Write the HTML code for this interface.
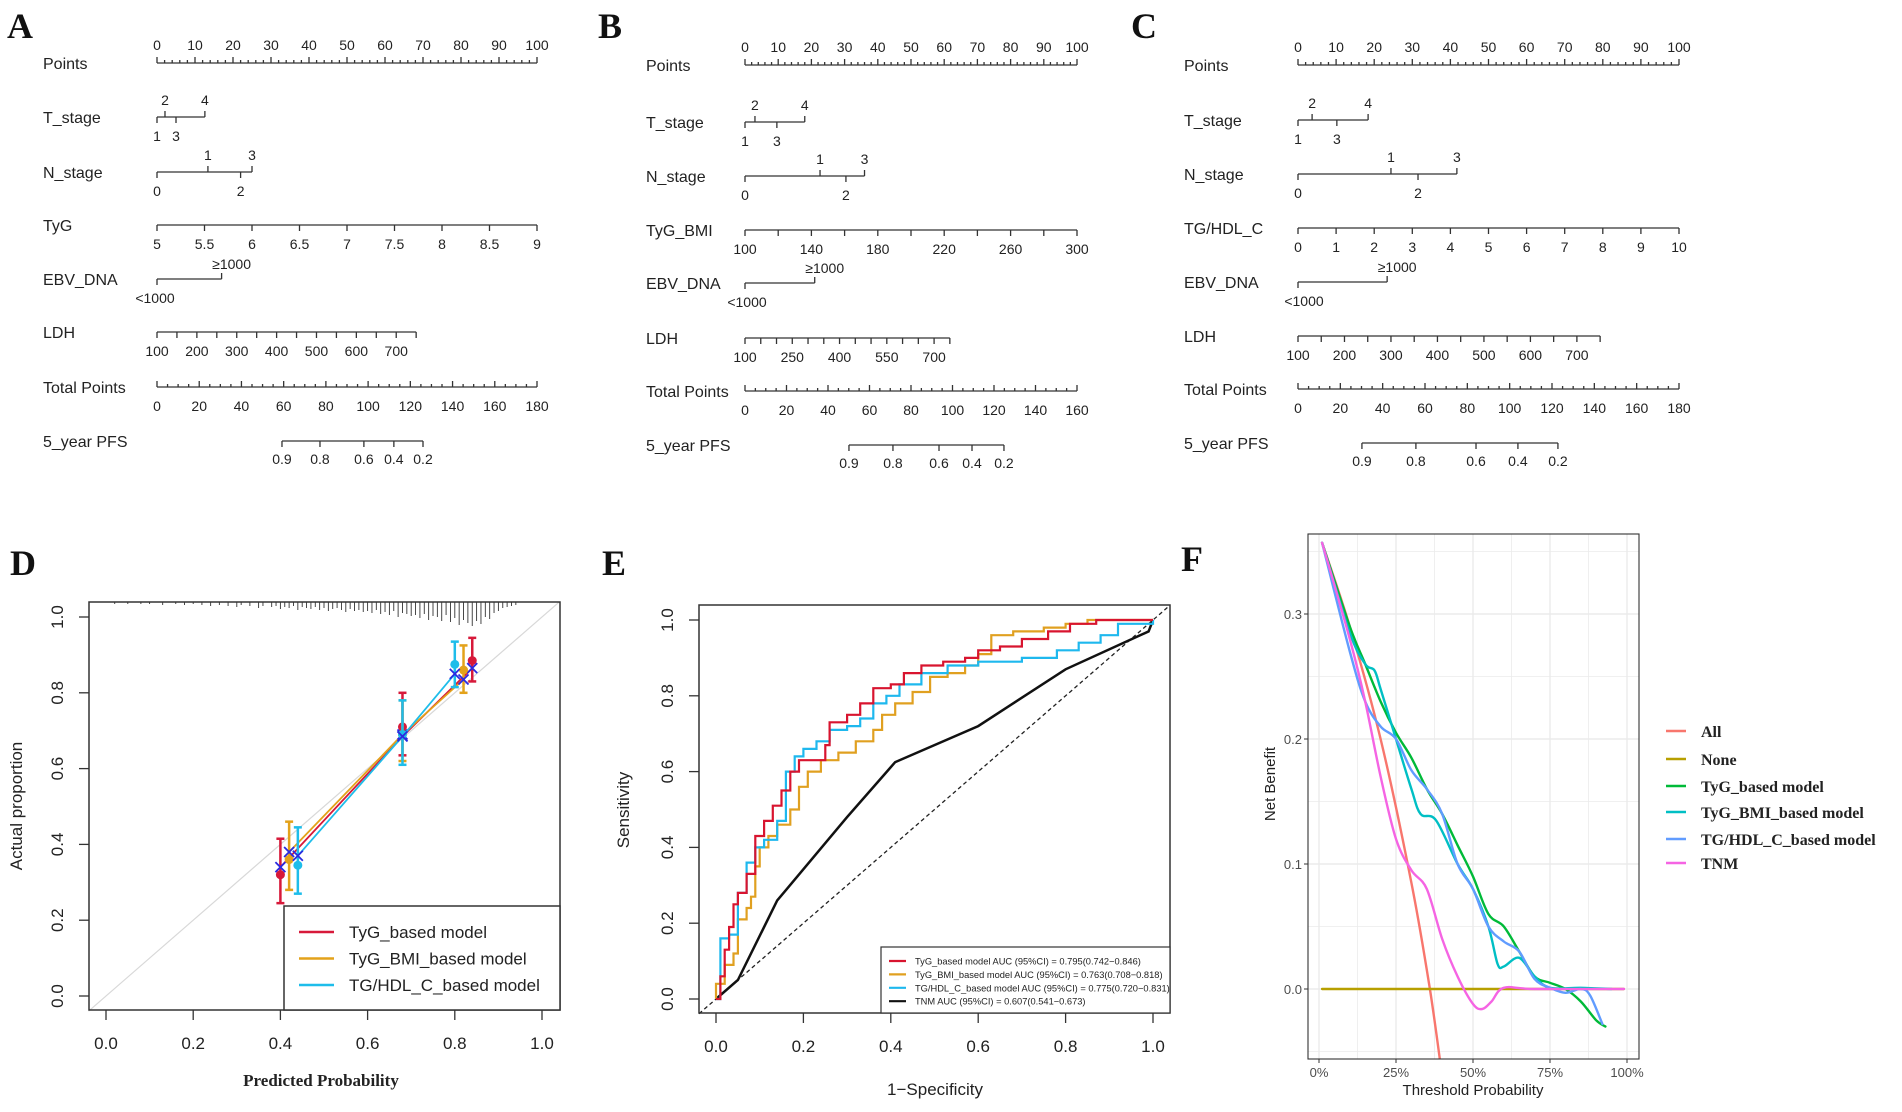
<!DOCTYPE html>
<html><head><meta charset="utf-8"><title>Nomograms, calibration, ROC and DCA</title>
<style>
html,body{margin:0;padding:0;background:#fff;}
svg{display:block;font-family:"Liberation Sans",sans-serif;}
</style></head>
<body>
<svg id="fig" width="1902" height="1112" viewBox="0 0 1902 1112" xmlns="http://www.w3.org/2000/svg"></svg>
<script>
// ---------- Nomogram data ----------
const nomoVarsA = ["Points","T_stage","N_stage","TyG","EBV_DNA","LDH","Total Points","5_year PFS"];
const nomoVarsB = ["Points","T_stage","N_stage","TyG_BMI","EBV_DNA","LDH","Total Points","5_year PFS"];
const nomoVarsC = ["Points","T_stage","N_stage","TG/HDL_C","EBV_DNA","LDH","Total Points","5_year PFS"];
const tStageLabels = ["1","2","3","4"];
const tStagePtsA = [0,2.1,5,12.6];
const tStagePtsB = [0,3,9.6,18];
const tStagePtsC = [0,3.7,10.2,18.4];
const nStageLabels = ["0","1","2","3"];
const nStagePtsA = [0,13.4,22,25];
const nStagePtsB = [0,22.6,30.4,36];
const nStagePtsC = [0,24.4,31.5,41.7];
const ebvLabels = ["<1000","≥1000"];
const ebvPtsA = [0,17];
const ebvPtsB = [0,21];
const ebvPtsC = [0,23.4];
const tygRange = [5,9]; const tygTickStep = 0.5;
const tygBmiRange = [100,300]; const tygBmiTickStep = 20; const tygBmiLabelStep = 40;
const tgHdlRange = [0,10]; const tgHdlTickStep = 1;
const ldhRange = [100,750];
const ldhMaxPtsA = 68.2, ldhMaxPtsB = 61.7, ldhMaxPtsC = 79.3;
const ldhLabelsA = [100,200,300,400,500,600,700];
const ldhLabelsB = [100,250,400,550,700];
const totalMaxA = 180, totalMaxB = 160, totalMaxC = 180;
const pfsLabels = ["0.9","0.8","0.6","0.4","0.2"];
const pfsPtsA = [59.2,77.2,98,112.2,126];
const pfsPtsB = [50.1,71.3,93.5,109.4,124.8];
const pfsPtsC = [30.2,55.7,84.1,103.9,122.8];

// ---------- Calibration (D) data ----------
const calModels = ["TyG_based model","TyG_BMI_based model","TG/HDL_C_based model"];
const calPred = [[0.40,0.68,0.84],[0.42,0.68,0.82],[0.44,0.68,0.80]];
const calObs = [[0.32,0.71,0.885],[0.36,0.69,0.86],[0.345,0.69,0.875]];
const calLo = [[0.245,0.635,0.83],[0.28,0.62,0.80],[0.27,0.61,0.815]];
const calHi = [[0.415,0.80,0.945],[0.46,0.78,0.925],[0.445,0.78,0.935]];
const calCorr = [[0.34,0.685,0.865],[0.38,0.69,0.835],[0.37,0.685,0.85]];
const calTicks = [0,0.2,0.4,0.6,0.8,1.0];
const rugPred = [0.02,0.05,0.08,0.1,0.13,0.16,0.18,0.2,0.22,0.24,0.26,0.28,0.3,0.31,0.33,0.35,0.36,0.38,0.39,0.4,0.41,0.42,0.43,0.44,0.45,0.46,0.47,0.48,0.49,0.5,0.51,0.52,0.53,0.54,0.55,0.56,0.57,0.58,0.59,0.6,0.61,0.62,0.63,0.64,0.65,0.66,0.67,0.68,0.69,0.7,0.71,0.72,0.73,0.74,0.75,0.76,0.77,0.78,0.79,0.8,0.81,0.82,0.83,0.84,0.85,0.86,0.87,0.88,0.89,0.9,0.91,0.92,0.93,0.94];
const rugLen = [0.2,0.2,0.2,0.2,0.3,0.2,0.3,0.2,0.3,0.4,0.3,0.4,0.5,0.3,0.4,0.6,0.4,0.5,0.4,0.7,0.5,0.6,0.4,0.8,0.5,0.6,0.7,0.5,0.8,0.6,0.9,0.7,0.6,0.8,1.0,0.7,0.9,0.8,1.0,0.9,1.1,0.8,1.2,1.0,1.3,0.9,1.5,1.1,1.2,1.4,1.3,1.6,1.2,1.8,1.4,1.5,1.9,1.3,2.0,1.6,2.3,1.8,2.1,2.4,1.9,2.2,1.5,1.7,1.1,0.9,0.6,0.5,0.4,0.3];

// ---------- ROC (E) data ----------
const rocModels = ["TyG_based model AUC (95%CI) = 0.795(0.742−0.846)","TyG_BMI_based model AUC (95%CI) = 0.763(0.708−0.818)","TG/HDL_C_based model AUC (95%CI) = 0.775(0.720−0.831)","TNM AUC (95%CI) = 0.607(0.541−0.673)"];
const rocFprRed = [0,0.01,0.02,0.03,0.04,0.05,0.07,0.09,0.11,0.13,0.15,0.17,0.19,0.22,0.25,0.26,0.30,0.33,0.36,0.40,0.43,0.47,0.52,0.57,0.60,0.65,0.70,0.76,0.81,0.87,1];
const rocTprRed = [0,0.06,0.13,0.19,0.25,0.28,0.33,0.43,0.47,0.51,0.55,0.60,0.63,0.63,0.67,0.73,0.75,0.78,0.82,0.83,0.86,0.88,0.89,0.90,0.92,0.93,0.95,0.97,0.99,1.0,1];
const rocFprOrange = [0,0,0.02,0.04,0.05,0.07,0.08,0.09,0.10,0.12,0.14,0.17,0.19,0.21,0.24,0.28,0.32,0.36,0.38,0.41,0.45,0.49,0.53,0.57,0.60,0.63,0.68,0.75,0.80,0.85,1];
const rocTprOrange = [0,0.04,0.09,0.12,0.21,0.24,0.27,0.35,0.40,0.43,0.46,0.50,0.56,0.60,0.63,0.65,0.68,0.71,0.75,0.78,0.81,0.85,0.86,0.88,0.91,0.96,0.97,0.98,0.99,1.0,1];
const rocFprCyan = [0,0.01,0.01,0.03,0.05,0.07,0.07,0.09,0.11,0.14,0.16,0.18,0.20,0.23,0.26,0.30,0.33,0.36,0.39,0.42,0.47,0.53,0.60,0.70,0.78,0.83,0.88,0.92,1,1];
const rocTprCyan = [0,0.04,0.16,0.17,0.28,0.30,0.36,0.40,0.42,0.47,0.60,0.64,0.66,0.68,0.71,0.72,0.74,0.78,0.80,0.83,0.86,0.88,0.89,0.90,0.92,0.94,0.96,0.99,0.995,1];
const rocFprTnm = [0,0.05,0.14,0.30,0.41,0.60,0.80,0.99,1];
const rocTprTnm = [0,0.05,0.26,0.48,0.625,0.72,0.87,0.97,1];
const rocTicks = [0,0.2,0.4,0.6,0.8,1.0];

// ---------- DCA (F) data ----------
const dcaNames = ["All","None","TyG_based model","TyG_BMI_based model","TG/HDL_C_based model","TNM"];
const dcaThrAll = [0.01,0.1,0.2,0.3,0.36,0.40];
const dcaNbAll = [0.357,0.29,0.2,0.085,0,-0.07];
const dcaThrNone = [0.01,0.99];
const dcaNbNone = [0,0];
const dcaThrTyg = [0.01,0.1,0.15,0.2,0.25,0.3,0.35,0.4,0.45,0.5,0.55,0.6,0.65,0.7,0.75,0.8,0.85,0.9,0.93];
const dcaNbTyg = [0.357,0.29,0.26,0.23,0.205,0.185,0.16,0.14,0.115,0.09,0.06,0.05,0.03,0.01,0.005,0,-0.01,-0.025,-0.03];
const dcaThrBmi = [0.01,0.1,0.15,0.18,0.2,0.25,0.3,0.33,0.38,0.45,0.5,0.55,0.58,0.6,0.65,0.7,0.75,0.85,0.95];
const dcaNbBmi = [0.357,0.285,0.26,0.255,0.24,0.2,0.16,0.14,0.135,0.10,0.08,0.05,0.02,0.018,0.025,0.01,0.001,0.001,0];
const dcaThrHdl = [0.01,0.1,0.15,0.2,0.25,0.3,0.35,0.4,0.45,0.5,0.55,0.6,0.65,0.7,0.75,0.8,0.85,0.88,0.92];
const dcaNbHdl = [0.357,0.27,0.23,0.21,0.2,0.175,0.16,0.14,0.1,0.08,0.05,0.038,0.03,0.008,0.001,-0.003,0,-0.005,-0.028];
const dcaThrTnm = [0.01,0.1,0.15,0.2,0.25,0.3,0.35,0.4,0.45,0.5,0.53,0.56,0.6,0.7,0.99];
const dcaNbTnm = [0.357,0.28,0.23,0.17,0.12,0.095,0.08,0.04,0.01,-0.012,-0.016,-0.01,0.001,0,0];
const dcaYTicks = [0,0.1,0.2,0.3];
const dcaXTicks = [0,0.25,0.5,0.75,1];
const dcaXLabels = ["0%","25%","50%","75%","100%"];

// ---------- helpers ----------
const NS = "http://www.w3.org/2000/svg";
const svg = document.getElementById("fig");
function mk(tag, attrs, name, parent) {
  const el = document.createElementNS(NS, tag);
  for (const k in attrs) el.setAttribute(k, attrs[k]);
  
  
  (parent || svg).appendChild(el);
  return el;
}
function grp(name) { return mk("g", {}, name); }
function ln(x1,y1,x2,y2,name,p,stroke,w,extra) {
  const a = {x1:x1,y1:y1,x2:x2,y2:y2,stroke:stroke||"#333","stroke-width":w||1.3};
  if (extra) for (const k in extra) a[k]=extra[k];
  return mk("line", a, name, p);
}
function tx(x,y,s,name,p,size,anchor,extra) {
  const a = {x:x,y:y,"font-size":size||14,"text-anchor":anchor||"middle",fill:"#222"};
  if (extra) for (const k in extra) a[k]=extra[k];
  const t = mk("text", a, name, p);
  t.textContent = s;
  return t;
}
function poly(pts,name,p,stroke,w,extra) {
  const a = {points:pts.map(q=>q[0].toFixed(1)+","+q[1].toFixed(1)).join(" "),fill:"none",stroke:stroke,"stroke-width":w||2,"stroke-linejoin":"round","stroke-linecap":"round"};
  if (extra) for (const k in extra) a[k]=extra[k];
  return mk("polyline", a, name, p);
}
function smooth(pts,name,p,stroke,w,extra) {
  let d = "M" + pts[0][0].toFixed(1) + "," + pts[0][1].toFixed(1);
  for (let i = 0; i < pts.length - 1; i++) {
    const p0 = pts[Math.max(0,i-1)], p1 = pts[i], p2 = pts[i+1], p3 = pts[Math.min(pts.length-1,i+2)];
    const c1 = [p1[0] + (p2[0]-p0[0])/6, p1[1] + (p2[1]-p0[1])/6];
    const c2 = [p2[0] - (p3[0]-p1[0])/6, p2[1] - (p3[1]-p1[1])/6];
    d += " C" + c1.map(v=>v.toFixed(1)).join(",") + " " + c2.map(v=>v.toFixed(1)).join(",") + " " + p2.map(v=>v.toFixed(1)).join(",");
  }
  const a = {d:d,fill:"none",stroke:stroke,"stroke-width":w||2,"stroke-linecap":"round"};
  if (extra) for (const k in extra) a[k]=extra[k];
  return mk("path", a, name, p);
}

// ---------- panel letters ----------
const letters = [["A",7,38],["B",598,38],["C",1131,38],["D",10,575],["E",602,575],["F",1181,571]];
letters.forEach(l => {
  tx(l[1], l[2], l[0], "panel-label-" + l[0].toLowerCase(), null, 36, "start", {"font-family":"Liberation Serif, serif","font-weight":"bold",fill:"#111"});
});

// ---------- nomogram ----------
function nomogram(cfg) {
  const g = grp("nomogram-" + cfg.id);
  const X = p => cfg.x0 + p / 100 * (cfg.x1 - cfg.x0);
  const XT = p => cfg.x0 + p / cfg.totalMax * (cfg.x1 - cfg.x0);
  const ys = cfg.ys;
  cfg.vars.forEach((v,i) => tx(cfg.lx, ys[i] + 6, v, "variable-label", g, 16, "start"));
  ln(X(0), ys[0], X(100), ys[0], "points-axis", g);
  for (let p = 0; p <= 100; p += 2) {
    const major = p % 10 === 0;
    ln(X(p), ys[0], X(p), ys[0] - (major ? 6 : 3), "points-tick", g);
    if (major) tx(X(p), ys[0] - 13, String(p), "points-tick-label", g, 14);
  }
  function cat(y, pts, labels, upIdx, name) {
    ln(X(pts[0]), y, X(Math.max.apply(null, pts)), y, name + "-axis", g);
    pts.forEach((p,i) => {
      const up = upIdx.indexOf(i) >= 0;
      ln(X(p), y, X(p), y + (up ? -6 : 6), name + "-tick", g);
      tx(X(p), up ? y - 12 : y + 24, labels[i], name + "-tick-label", g, 14);
    });
  }
  cat(ys[1], cfg.tPts, tStageLabels, [1,3], "t-stage");
  cat(ys[2], cfg.nPts, nStageLabels, [1,3], "n-stage");
  const cv = cfg.cont;
  const CX = v => X((v - cv.range[0]) / (cv.range[1] - cv.range[0]) * 100);
  ln(CX(cv.range[0]), ys[3], CX(cv.range[1]), ys[3], "continuous-axis", g);
  for (let v = cv.range[0]; v <= cv.range[1] + 1e-9; v += cv.step) {
    ln(CX(v), ys[3], CX(v), ys[3] + 6, "continuous-tick", g);
    const k = Math.round((v - cv.range[0]) / cv.labelStep * 1000) / 1000;
    if (Math.abs(k - Math.round(k)) < 1e-6) tx(CX(v), ys[3] + 24, String(Math.round(v * 10) / 10), "continuous-tick-label", g, 14);
  }
  ln(X(cfg.ebvPts[0]), ys[4], X(cfg.ebvPts[1]), ys[4], "ebv-axis", g);
  ln(X(cfg.ebvPts[0]), ys[4], X(cfg.ebvPts[0]), ys[4] + 6, "ebv-tick", g);
  ln(X(cfg.ebvPts[1]), ys[4], X(cfg.ebvPts[1]), ys[4] - 6, "ebv-tick", g);
  tx(X(cfg.ebvPts[0]) + cfg.ltOff, ys[4] + 24, ebvLabels[0], "ebv-tick-label", g, 14);
  tx(X(cfg.ebvPts[1]) + 10, ys[4] - 10, ebvLabels[1], "ebv-tick-label", g, 14);
  const LX = v => X((v - ldhRange[0]) / (ldhRange[1] - ldhRange[0]) * cfg.ldhMax);
  ln(LX(ldhRange[0]), ys[5], LX(ldhRange[1]), ys[5], "ldh-axis", g);
  for (let v = ldhRange[0]; v <= ldhRange[1]; v += 50) ln(LX(v), ys[5], LX(v), ys[5] + 6, "ldh-tick", g);
  cfg.ldhLabels.forEach(v => tx(LX(v), ys[5] + 24, String(v), "ldh-tick-label", g, 14));
  ln(XT(0), ys[6], XT(cfg.totalMax), ys[6], "total-points-axis", g);
  for (let p = 0; p <= cfg.totalMax; p += 5) {
    const major = p % 20 === 0;
    ln(XT(p), ys[6], XT(p), ys[6] - (major ? 6 : 3), "total-points-tick", g);
    if (major) tx(XT(p), ys[6] + 24, String(p), "total-points-tick-label", g, 14);
  }
  ln(XT(cfg.pfsPts[0]), ys[7], XT(cfg.pfsPts[cfg.pfsPts.length - 1]), ys[7], "pfs-axis", g);
  cfg.pfsPts.forEach((p,i) => {
    ln(XT(p), ys[7], XT(p), ys[7] + 6, "pfs-tick", g);
    tx(XT(p), ys[7] + 23, pfsLabels[i], "pfs-tick-label", g, 14);
  });
}
nomogram({id:"a",x0:157,x1:537,lx:43,ys:[63,117,172,225,279,332,387,441],vars:nomoVarsA,tPts:tStagePtsA,nPts:nStagePtsA,
  cont:{range:tygRange,step:tygTickStep,labelStep:tygTickStep},ebvPts:ebvPtsA,ltOff:-2,ldhMax:ldhMaxPtsA,ldhLabels:ldhLabelsA,totalMax:totalMaxA,pfsPts:pfsPtsA});
nomogram({id:"b",x0:745,x1:1077,lx:646,ys:[65,122,176,230,283,338,391,445],vars:nomoVarsB,tPts:tStagePtsB,nPts:nStagePtsB,
  cont:{range:tygBmiRange,step:tygBmiTickStep,labelStep:tygBmiLabelStep},ebvPts:ebvPtsB,ltOff:2,ldhMax:ldhMaxPtsB,ldhLabels:ldhLabelsB,totalMax:totalMaxB,pfsPts:pfsPtsB});
nomogram({id:"c",x0:1298,x1:1679,lx:1184,ys:[65,120,174,228,282,336,389,443],vars:nomoVarsC,tPts:tStagePtsC,nPts:nStagePtsC,
  cont:{range:tgHdlRange,step:tgHdlTickStep,labelStep:tgHdlTickStep},ebvPts:ebvPtsC,ltOff:6,ldhMax:ldhMaxPtsC,ldhLabels:ldhLabelsA,totalMax:totalMaxC,pfsPts:pfsPtsC});

// ---------- D calibration ----------
(function(){
  const g = grp("calibration-plot");
  const fx0=89, fx1=560, fy0=602, fy1=1010;
  const X = v => 106 + v * 436, Y = v => 996 - v * 379;
  ln(X(-0.04), Y(-0.04), X(1.04), Y(1.04), "ideal-line", g, "#d8d8d8", 1.2);
  rugPred.forEach((p,i) => ln(X(p), fy0, X(p), fy0 + rugLen[i] * 10, "rug-mark", g, "#333", 0.9));
  const cols = ["#d7193a","#e3a21a","#1ebdea"];
  calModels.forEach((m,k) => {
    const c = cols[k];
    poly(calPred[k].map((p,i)=>[X(p),Y(calCorr[k][i])]), "calibration-line-" + k, g, c, 1.8);
    calPred[k].forEach((p,i) => {
      ln(X(p), Y(calLo[k][i]), X(p), Y(calHi[k][i]), "error-bar", g, c, 2.5);
      ln(X(p)-4, Y(calLo[k][i]), X(p)+4, Y(calLo[k][i]), "error-cap", g, c, 2.5);
      ln(X(p)-4, Y(calHi[k][i]), X(p)+4, Y(calHi[k][i]), "error-cap", g, c, 2.5);
      mk("circle", {cx:X(p), cy:Y(calObs[k][i]), r:4.5, fill:c}, "observed-point", g);
      const cx = X(p), cy = Y(calCorr[k][i]);
      ln(cx-5, cy-5, cx+5, cy+5, "corrected-marker", g, "#2a2ae0", 1.8);
      ln(cx-5, cy+5, cx+5, cy-5, "corrected-marker", g, "#2a2ae0", 1.8);
    });
  });
  mk("rect", {x:fx0, y:fy0, width:fx1-fx0, height:fy1-fy0, fill:"none", stroke:"#333", "stroke-width":1.5}, "plot-frame", g);
  calTicks.forEach(t => {
    ln(X(t), fy1, X(t), fy1 + 10, "x-tick", g);
    tx(X(t), 1049, t.toFixed(1), "x-tick-label", g, 17);
    ln(fx0, Y(t), fx0 - 10, Y(t), "y-tick", g);
    tx(63, Y(t), t.toFixed(1), "y-tick-label", g, 17, "middle", {transform:"rotate(-90 63 " + Y(t) + ")"});
  });
  tx(321, 1086, "Predicted Probability", "x-axis-title", g, 17, "middle", {"font-family":"Liberation Serif, serif","font-weight":"bold"});
  tx(22, 806, "Actual proportion", "y-axis-title", g, 17, "middle", {transform:"rotate(-90 22 806)"});
  const lg = mk("g", {}, "legend", g);
  mk("rect", {x:284, y:906, width:276, height:104, fill:"#fff", stroke:"#333", "stroke-width":1.5}, "legend-box", lg);
  calModels.forEach((m,k) => {
    const y = 932 + k * 26.5;
    ln(299, y, 334, y, "legend-swatch", lg, cols[k], 2.5);
    tx(349, y + 6, m, "legend-entry", lg, 17, "start");
  });
})();

// ---------- E ROC ----------
(function(){
  const g = grp("roc-plot");
  const fx0=699, fx1=1170, fy0=605, fy1=1013;
  const X = v => 716 + v * 437, Y = v => 999 - v * 379;
  ln(fx0, Y((fx0-716)/437), fx1, Y((fx1-716)/437), "reference-diagonal", g, "#222", 1.3, {"stroke-dasharray":"4,3"});
  const sets = [[rocFprTnm,rocTprTnm,"#111","roc-tnm"],[rocFprOrange,rocTprOrange,"#e0a020","roc-tyg-bmi"],[rocFprCyan,rocTprCyan,"#1eb8ee","roc-tg-hdl"],[rocFprRed,rocTprRed,"#d8142f","roc-tyg"]];
  sets.forEach(s => {
    const pts = [];
    s[0].forEach((f,i) => {
      if (s[3] !== "roc-tnm" && i > 0) pts.push([X(f), Y(s[1][i-1])]);
      pts.push([X(f), Y(s[1][i])]);
    });
    poly(pts, s[3], g, s[2], s[3] === "roc-tnm" ? 2.5 : 2.2, {"stroke-linejoin":"miter","stroke-linecap":"butt"});
  });
  mk("rect", {x:fx0, y:fy0, width:fx1-fx0, height:fy1-fy0, fill:"none", stroke:"#333", "stroke-width":1.5}, "plot-frame", g);
  rocTicks.forEach(t => {
    ln(X(t), fy1, X(t), fy1 + 10, "x-tick", g);
    tx(X(t), 1052, t.toFixed(1), "x-tick-label", g, 17);
    ln(fx0, Y(t), fx0 - 10, Y(t), "y-tick", g);
    tx(673, Y(t), t.toFixed(1), "y-tick-label", g, 17, "middle", {transform:"rotate(-90 673 " + Y(t) + ")"});
  });
  tx(935, 1095, "1−Specificity", "x-axis-title", g, 17);
  tx(629, 810, "Sensitivity", "y-axis-title", g, 17, "middle", {transform:"rotate(-90 629 810)"});
  const lg = mk("g", {}, "legend", g);
  mk("rect", {x:881, y:947, width:289, height:66, fill:"#fff", stroke:"#333", "stroke-width":1.2}, "legend-box", lg);
  const cols = ["#d8142f","#e0a020","#1eb8ee","#111"];
  rocModels.forEach((m,k) => {
    const y = 961 + k * 13.4;
    ln(889, y, 906, y, "legend-swatch", lg, cols[k], 2.2);
    tx(915, y + 3.5, m, "legend-entry", lg, 9.3, "start");
  });
})();

// ---------- F DCA ----------
(function(){
  const g = grp("decision-curve-plot");
  const fx0=1308, fx1=1639, fy0=534, fy1=1059;
  const X = v => 1319 + v * 308, Y = v => 989 - v * 1250;
  mk("rect", {x:fx0, y:fy0, width:fx1-fx0, height:fy1-fy0, fill:"#fff"}, "plot-background", g);
  for (let v = -0.05; v <= 0.36; v += 0.05) {
    const yy = Y(v); if (yy < fy0 || yy > fy1) continue;
    ln(fx0, yy, fx1, yy, "grid-line", g, "#ebebeb", Math.abs(v*10 - Math.round(v*10)) < 1e-6 ? 1.4 : 0.8);
  }
  for (let v = 0; v <= 1.0001; v += 0.125) {
    ln(X(v), fy0, X(v), fy1, "grid-line", g, "#ebebeb", Math.abs(v*4 - Math.round(v*4)) < 1e-6 ? 1.4 : 0.8);
  }
  const cl = mk("clipPath", {id:"fclip"}, "plot-clip", g);
  mk("rect", {x:fx0, y:fy0, width:fx1-fx0, height:fy1-fy0}, "clip-rect", cl);
  const sets = [[dcaThrAll,dcaNbAll,"#F8766D","dca-all"],[dcaThrNone,dcaNbNone,"#B79F00","dca-none"],[dcaThrTyg,dcaNbTyg,"#00BA38","dca-tyg"],[dcaThrBmi,dcaNbBmi,"#00BFC4","dca-tyg-bmi"],[dcaThrHdl,dcaNbHdl,"#619CFF","dca-tg-hdl"],[dcaThrTnm,dcaNbTnm,"#F564E3","dca-tnm"]];
  sets.forEach(s => smooth(s[0].map((t,i)=>[X(t),Y(s[1][i])]), s[3], g, s[2], 2.4, {"clip-path":"url(#fclip)"}));
  mk("rect", {x:fx0, y:fy0, width:fx1-fx0, height:fy1-fy0, fill:"none", stroke:"#333", "stroke-width":1.1}, "plot-frame", g);
  dcaYTicks.forEach(t => {
    ln(fx0, Y(t), fx0 - 4, Y(t), "y-tick", g, "#333", 1);
    tx(fx0 - 6, Y(t) + 5, t.toFixed(1), "y-tick-label", g, 13, "end", {fill:"#4d4d4d"});
  });
  dcaXTicks.forEach((t,i) => {
    ln(X(t), fy1, X(t), fy1 + 4, "x-tick", g, "#333", 1);
    tx(X(t), 1077, dcaXLabels[i], "x-tick-label", g, 13, "middle", {fill:"#4d4d4d"});
  });
  tx(1473, 1095, "Threshold Probability", "x-axis-title", g, 15);
  tx(1275, 784, "Net Benefit", "y-axis-title", g, 15, "middle", {transform:"rotate(-90 1275 784)"});
  const lg = mk("g", {}, "legend", g);
  const cols = ["#F8766D","#B79F00","#00BA38","#00BFC4","#619CFF","#F564E3"];
  const ly = [731,759,786,812,839,863];
  dcaNames.forEach((n,k) => {
    ln(1666, ly[k], 1686, ly[k], "legend-swatch", lg, cols[k], 2.6);
    tx(1701, ly[k] + 6, n, "legend-entry", lg, 16, "start", {"font-family":"Liberation Serif, serif","font-weight":"bold"});
  });
})();
</script>
</body></html>
